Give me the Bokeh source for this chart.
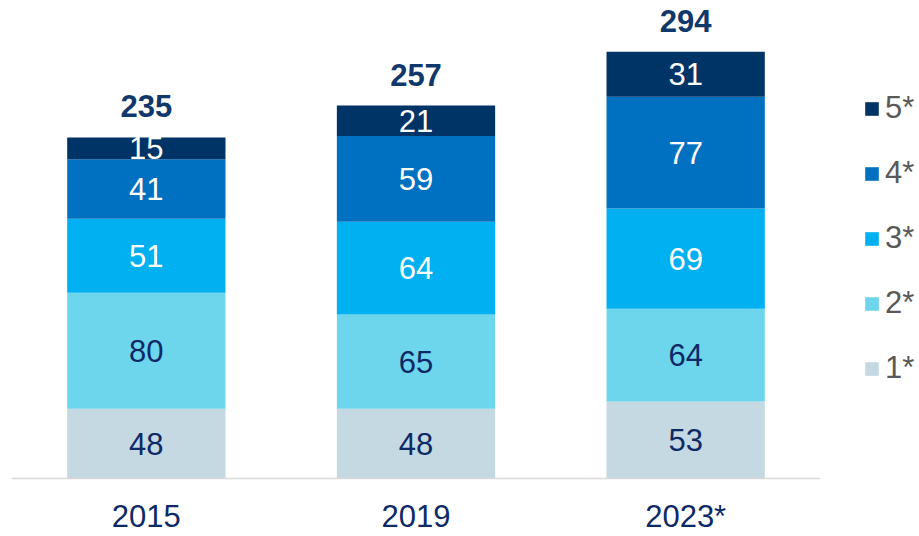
from bokeh.plotting import figure
from bokeh.layouts import row
from bokeh.models import Range1d, FactorRange, Legend, LegendItem, ColumnDataSource
from bokeh.core.properties import value
from bokeh.embed import file_html
from bokeh.resources import INLINE

years = ["2015", "2019", "2023*"]
levels = ["1*", "2*", "3*", "4*", "5*"]
s1 = [48, 48, 53]
s2 = [80, 65, 64]
s3 = [51, 64, 69]
s4 = [41, 59, 77]
s5 = [15, 21, 31]
totals = [235, 257, 294]

colors = ["#C5D9E2", "#6DD5EC", "#00B0F0", "#0070C0", "#003366"]
text_colors = ["#0D2A66", "#0D2A66", "#FFFFFF", "#FFFFFF", "#FFFFFF"]
NAVY = "#0D2A66"
FONT = "Liberation Sans"
H = 536

series = [s1, s2, s3, s4, s5]
data = {"year": years}
for lv, s in zip(levels, series):
    data[lv] = s
src = ColumnDataSource(data)

p = figure(x_range=FactorRange(factors=years, range_padding=0),
           y_range=Range1d(-39.97, 329.4),
           x_axis_type=None, y_axis_type=None,
           width=820, height=H, output_backend="svg", toolbar_location=None,
           min_border_left=11, min_border_right=0, min_border_top=0, min_border_bottom=0)
p.outline_line_color = None
p.grid.visible = False

rends = p.vbar_stack(levels, x="year", width=0.587, color=colors, source=src, line_color=None)

# baseline (category axis line)
p.hspan(y=[0], line_color="#D9D9D9", line_width=1.5)

# segment labels
bottom = [0, 0, 0]
for lv, s, tc in zip(levels, series, text_colors):
    mids = [b + v / 2 for b, v in zip(bottom, s)]
    p.text(x=years, y=mids, text=[str(v) for v in s], text_align="center",
           text_baseline="middle", text_font=value(FONT), text_font_size="31px",
           text_color=tc)
    bottom = [b + v for b, v in zip(bottom, s)]

# totals
p.text(x=years, y=totals, text=[str(t) for t in totals], text_align="center",
       text_baseline="middle", y_offset=-31, text_font=value(FONT),
       text_font_size="31px", text_font_style="bold", text_color="#10386B")

# category labels
p.text(x=years, y=[0] * len(years), text=years, text_align="center",
       text_baseline="middle", y_offset=38, text_font=value(FONT),
       text_font_size="31px", text_color=NAVY)

# legend panel
p2 = figure(width=97, height=H, x_range=Range1d(0, 1), y_range=Range1d(0, 1),
            x_axis_type=None, y_axis_type=None, output_backend="svg",
            toolbar_location=None, min_border=0)
p2.outline_line_color = None
p2.grid.visible = False
nan = float("nan")
leg_rends = []
for c in colors:
    leg_rends.append(p2.vbar(x=[nan], top=[nan], width=0.1, color=c, line_color=None))

items = [LegendItem(label=lv, renderers=[r]) for lv, r in zip(levels, leg_rends)][::-1]
legend = Legend(items=items, location=(43, 150))
legend.glyph_width = 17
legend.glyph_height = 17
legend.label_height = 36
legend.spacing = 29
legend.padding = 0
legend.margin = 0
legend.label_standoff = 5
legend.label_text_font = FONT
legend.label_text_font_size = "31px"
legend.label_text_color = "#595959"
legend.border_line_color = None
legend.background_fill_alpha = 0
p2.add_layout(legend)

open("out.html", "w").write(file_html(row(p, p2), INLINE))
